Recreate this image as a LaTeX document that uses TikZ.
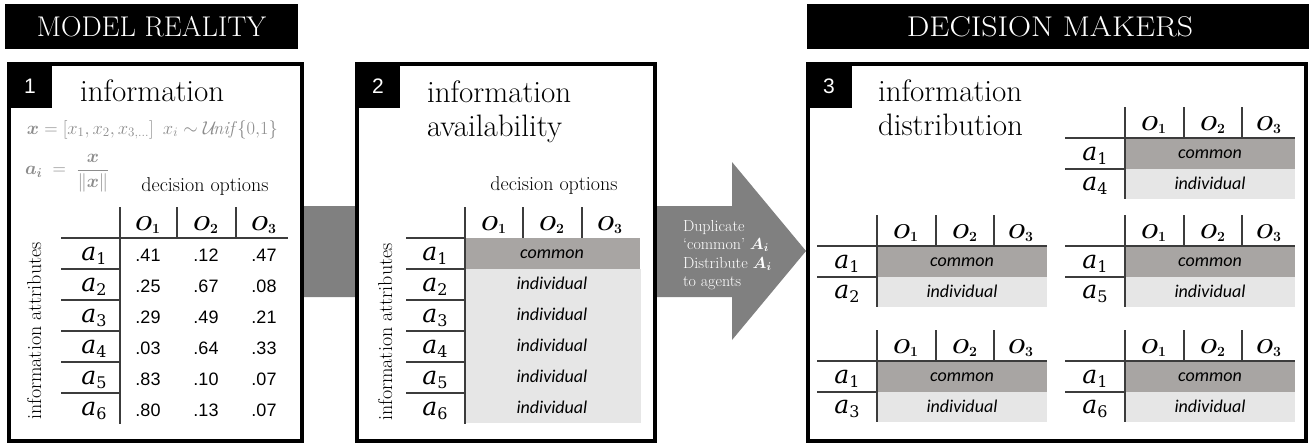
\documentclass[tikz,border=0pt]{standalone}
\usepackage{fix-cm}
\usepackage{amsmath,bm}
\usepackage{fontspec}
\newfontfamily\arialf{Liberation Sans}
\newfontfamily\carlf{Carlito}
\newfontfamily\dvs{DejaVu Serif}
\definecolor{cgray}{RGB}{168,165,163}
\definecolor{igray}{RGB}{230,230,230}
\definecolor{agray}{RGB}{128,128,128}
\definecolor{fgray}{RGB}{140,140,140}
\definecolor{lgray}{RGB}{60,60,60}
\newcommand\fsz[1]{\fontsize{#1}{#1}\selectfont}
\newcommand\alab[1]{{\dvs\itshape a}\raisebox{-4pt}{\fsz{16}\dvs #1}}
\tikzset{
  txt/.style={inner sep=0pt, outer sep=0pt},
  panel/.style={draw=black, line width=3.5pt, fill=white},
  blackbox/.style={fill=black},
  tline/.style={draw=lgray, line width=1.1pt},
  bannertxt/.style={txt, font=\fsz{28.5}, text=white},
  title/.style={txt, font=\fsz{31}, anchor=base west},
  tabnum/.style={txt, font=\arialf\fsz{21}, text=white},
  alabel/.style={txt, font=\fsz{25}, anchor=base},
  ohead/.style={txt, font=\fsz{20}, anchor=base},
  val/.style={txt, font=\arialf\fsz{18}, anchor=base},
  cell/.style={txt, font=\carlf\itshape\fsz{18}, anchor=base},
  axis/.style={txt, font=\fsz{20}},
  arrtext/.style={txt, font=\fsz{16}, text=white, anchor=base west},
}
\newcommand\subtab[4]{%
  \fill[cgray] (#1,#2+31) rectangle (#1+170,#2+62);
  \fill[igray] (#1,#2+62) rectangle (#1+170,#2+92);
  \draw[tline] (#1,#2) -- (#1,#2+92);
  \draw[tline] (#1+59,#2) -- (#1+59,#2+31);
  \draw[tline] (#1+117,#2) -- (#1+117,#2+31);
  \draw[tline] (#1-60,#2+31) -- (#1+170,#2+31);
  \draw[tline] (#1-60,#2+62) -- (#1,#2+62);
  \node[ohead] (#4o1) at (#1+29,#2+23) {$\bm{O_1}$};
  \node[ohead] (#4o2) at (#1+88,#2+23) {$\bm{O_2}$};
  \node[ohead] (#4o3) at (#1+144,#2+23) {$\bm{O_3}$};
  \node[alabel] (#4a1) at (#1-30,#2+53) {\alab{1}};
  \node[alabel] (#4ak) at (#1-30,#2+83) {\alab{#3}};
  \node[cell] (#4c) at (#1+85,#2+51) {common};
  \node[cell] (#4i) at (#1+85,#2+82) {individual};
}
\begin{document}
\begin{tikzpicture}[x=1pt,y=-1pt]
\useasboundingbox (0,0) rectangle (1309,445);
\fill[white] (0,0) rectangle (1309,445);

% banners
\fill[blackbox] (5,4) rectangle (298,49);
\node[bannertxt] (b1) at (151.5,27) {MODEL REALITY};
\fill[blackbox] (807,4) rectangle (1309,49);
\node[bannertxt] (b2) at (1050,27) {\scalebox{1.12}[1]{DECISION MAKERS}};

% gray band and big arrow
\fill[agray] (300,206) -- (732,206) -- (732,162) -- (806,251) -- (732,340) -- (732,297) -- (300,297) -- cycle;

% panels
\draw[panel] (9,64) rectangle (302,441);
\draw[panel] (357,64) rectangle (655,441);
\draw[panel] (808,64) rectangle (1306,441);

% arrow text
\node[arrtext] (arr1) at (683,231) {\fsz{16}Duplicate};
\node[arrtext] (arr2) at (683,249.5) {\fsz{16}`common' $\bm{A_i}$};
\node[arrtext] (arr3) at (683,268) {\fsz{16}Distribute $\bm{A_i}$};
\node[arrtext] (arr4) at (683,286.5) {\fsz{16}to agents};

% tabs
\fill[blackbox] (7,62) rectangle (52,108);
\node[tabnum] (n1) at (30,86) {1};
\fill[blackbox] (355,62) rectangle (400,108);
\node[tabnum] (n2) at (378,86) {2};
\fill[blackbox] (806,62) rectangle (852,108);
\node[tabnum] (n3) at (829,86) {3};

% titles
\node[title] (t1) at (80,101) {information};
\node[title] (t2a) at (427,102) {information};
\node[title] (t2b) at (427,136) {availability};
\node[title] (t3a) at (878,101) {information};
\node[title] (t3b) at (878,135) {distribution};

% formulas
\node[txt, anchor=base west, text=fgray, font=\fsz{18.5}] (f1) at (27,134)
  {$\bm{x} = [x_1, x_2, x_{3,\dots}]$\enspace$x_i \sim \mathcal{U}\!\mathit{nif}\,\{0{,}1\}$};
\node[txt, anchor=west, text=fgray, font=\fsz{18.5}] (f2) at (25,173)
  {$\bm{a_i} \;=\; \dfrac{\bm{x}}{\|\bm{x}\|}$};

% ---------- table 1 ----------
\node[axis, anchor=base] (do1) at (205,191) {decision options};
\node[axis, rotate=90, anchor=base] (ia1) at (41,331) {information attributes};
\draw[tline] (120,207) -- (120,424);
\draw[tline] (177,207) -- (177,238);
\draw[tline] (236,207) -- (236,238);
\draw[tline] (61,238) -- (288,238);
\foreach \y in {269,300,331,362,393} \draw[tline] (61,\y) -- (120,\y);
\node[ohead] (h1o1) at (148,230) {$\bm{O_1}$};
\node[ohead] (h1o2) at (206,230) {$\bm{O_2}$};
\node[ohead] (h1o3) at (264,230) {$\bm{O_3}$};
\foreach \va/\vb/\vc [count=\i] in {.41/.12/.47,.25/.67/.08,.29/.49/.21,.03/.64/.33,.83/.10/.07,.80/.13/.07}{
  \pgfmathsetmacro\rt{238+31*(\i-1)}
  \node[alabel] (r1a\i) at (94,\rt+22) {\alab{\i}};
  \node[val] (v1a\i) at (148,\rt+23) {\va};
  \node[val] (v1b\i) at (206,\rt+23) {\vb};
  \node[val] (v1c\i) at (264,\rt+23) {\vc};
}

% ---------- table 2 ----------
\node[axis, anchor=base] (do2) at (554,190) {decision options};
\node[axis, rotate=90, anchor=base] (ia2) at (392,332) {information attributes};
\fill[cgray] (465,238) rectangle (640,269);
\fill[igray] (465,269) rectangle (641,423);
\draw[tline] (465,207) -- (465,424);
\draw[tline] (523,207) -- (523,238);
\draw[tline] (582,207) -- (582,238);
\foreach \y in {238,269,300,331,362,393} \draw[tline] (406,\y) -- (465,\y);
\node[ohead] (h2o1) at (494,230) {$\bm{O_1}$};
\node[ohead] (h2o2) at (552,230) {$\bm{O_2}$};
\node[ohead] (h2o3) at (610,230) {$\bm{O_3}$};
\node[cell] (c2) at (552,258) {common};
\foreach \i in {1,...,6}{
  \pgfmathsetmacro\rt{238+31*(\i-1)}
  \node[alabel] (r2a\i) at (435,\rt+22) {\alab{\i}};
}
\foreach \i in {2,...,6}{
  \pgfmathsetmacro\rt{238+31*(\i-1)}
  \node[cell] (c2i\i) at (552,\rt+20) {individual};
}

% ---------- panel 3 sub-tables ----------
\subtab{1125}{107}{4}{sA}
\subtab{877}{215}{2}{sB}
\subtab{1125}{215}{5}{sC}
\subtab{877}{330}{3}{sD}
\subtab{1125}{330}{6}{sE}
\end{tikzpicture}
\end{document}
